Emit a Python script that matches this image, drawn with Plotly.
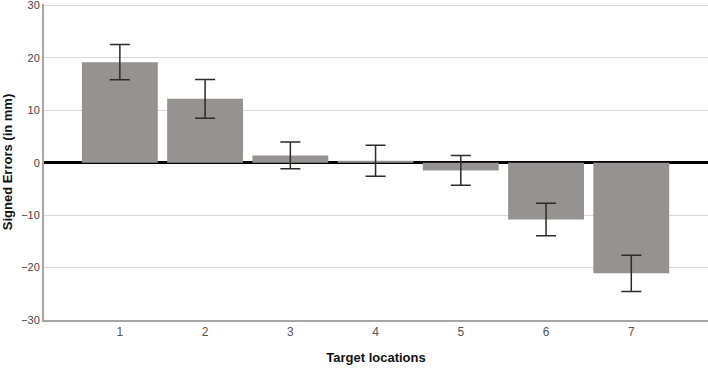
import plotly.graph_objects as go

locations = [1, 2, 3, 4, 5, 6, 7]
tick_labels = ["1", "2", "3", "4", "5", "6", "7"]
y_ticks = [-30, -20, -10, 0, 10, 20, 30]
signed_errors = [19.2, 12.2, 1.4, 0.4, -1.45, -10.8, -21.1]
error_ci = [3.35, 3.7, 2.55, 2.95, 2.85, 3.1, 3.45]

fig = go.Figure()
fig.add_trace(go.Bar(
    x=locations, y=signed_errors, width=0.89,
    marker=dict(color="#959291", line=dict(width=0)),
    error_y=dict(type="data", array=error_ci, visible=True,
                 color="#2b2b2b", thickness=1.5, width=10),
))
fig.update_layout(
    width=708, height=370,
    margin=dict(l=44, r=0, t=4, b=50, autoexpand=False),
    paper_bgcolor="white", plot_bgcolor="white",
    showlegend=False,
    font=dict(family="Liberation Sans, Arial", size=11, color="#444"),
)
fig.update_xaxes(
    range=[0.11, 7.9], tickvals=locations, ticktext=tick_labels,
    showgrid=False, showline=True, linecolor="#a6a6a6", linewidth=2,
    ticks="", tickfont=dict(size=12, color="#555"), automargin=False,
    title=dict(text="<b>Target locations</b>", font=dict(size=13, color="#111"), standoff=14),
)
fig.update_yaxes(
    range=[-30, 30.3], tickvals=y_ticks, showgrid=True, gridcolor="#d9d9d9", gridwidth=1,
    zeroline=True, zerolinecolor="#000", zerolinewidth=3,
    showline=True, linecolor="#a6a6a6", linewidth=2, ticks="", automargin=False,
    tickfont=dict(size=11, color="#444"), ticklabeloverflow="allow",
    title=dict(text="<b>Signed Errors (in mm)</b>", font=dict(size=13, color="#111"), standoff=6),
)
fig.write_html("out.html", config={"displayModeBar": False},
               post_script="document.body.style.margin='0';")
